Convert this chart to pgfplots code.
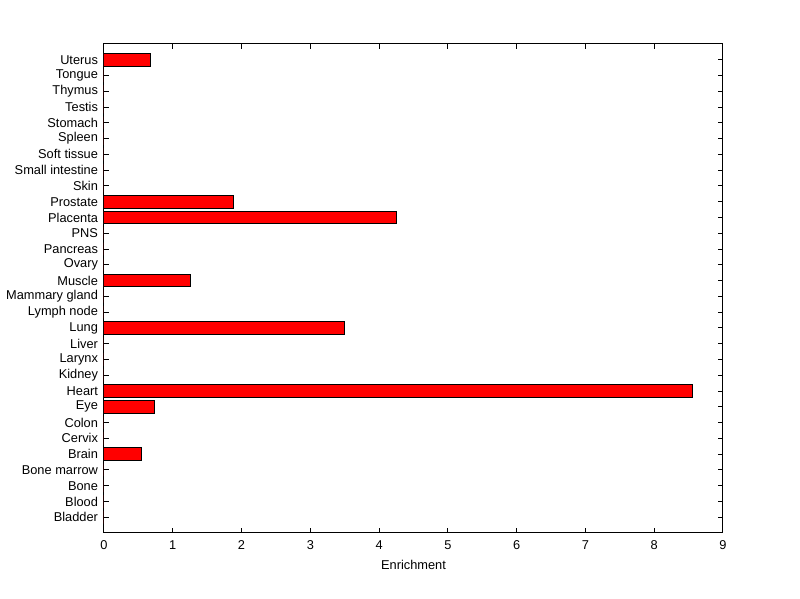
\documentclass[border=0pt]{standalone}
\usepackage{pgfplots}
\pgfplotsset{compat=1.18}
\usepackage{fontspec}
\setmainfont{Liberation Sans}

\begin{document}
\begin{tikzpicture}
\path[use as bounding box] (0pt,0pt) rectangle (600pt,449.25pt);
\begin{axis}[
    at={(78pt,49.5pt)}, anchor=south west,
    scale only axis,
    width=464.25pt, height=366.75pt,
    xbar, bar width=0.8,
    xmin=0, xmax=9,
    ymin=0, ymax=31,
    xtick={0,...,9},
    ytick={1,...,30},
    yticklabels={Bladder,Blood,Bone,Bone marrow,Brain,Cervix,Colon,Eye,Heart,Kidney,Larynx,Liver,Lung,Lymph node,Mammary gland,Muscle,Ovary,Pancreas,PNS,Placenta,Prostate,Skin,Small intestine,Soft tissue,Spleen,Stomach,Testis,Thymus,Tongue,Uterus},
    tick align=inside,
    major tick length=3.75pt,
    tick style={black, line width=0.75pt},
    axis line style={line width=0.75pt},
    tick label style={font=\fontsize{9.6}{10}\selectfont},
    /pgf/number format/assume math mode=true,
    xticklabel style={yshift=-2pt},
    xlabel={Enrichment},
    xlabel style={font=\fontsize{9.6}{10}\selectfont, yshift=-1pt},
    yticklabel style={xshift=-1pt},
]
\addplot[fill=red, draw=black, line width=0.75pt] coordinates {
(0,1) (0,2) (0,3) (0,4) (0.55,5) (0,6) (0,7) (0.74,8) (8.56,9) (0,10)
(0,11) (0,12) (3.50,13) (0,14) (0,15) (1.26,16) (0,17) (0,18) (0,19) (4.26,20)
(1.89,21) (0,22) (0,23) (0,24) (0,25) (0,26) (0,27) (0,28) (0,29) (0.68,30)
};
\end{axis}
\end{tikzpicture}
\end{document}
